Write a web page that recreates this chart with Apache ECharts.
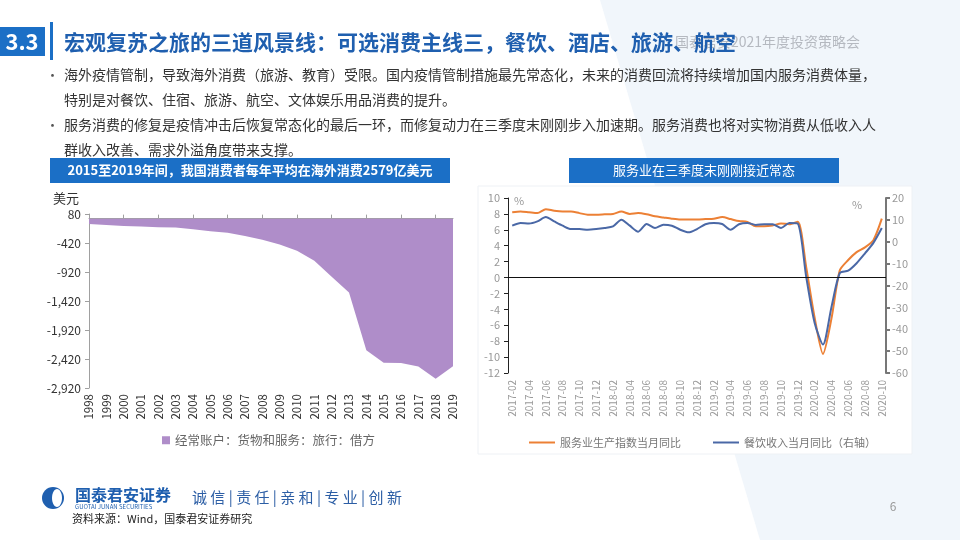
<!DOCTYPE html>
<html>
<head>
<meta charset="utf-8">
<script src="https://cdn.jsdelivr.net/npm/echarts@6/dist/echarts.min.js"></script>
<style>
html,body{margin:0;padding:0;background:#fff;}
#c{width:960px;height:540px;}
</style>
</head>
<body>
<div id="c"></div>
<script>
// ---- Left chart data (亿美元) ----
const years = ['1998','1999','2000','2001','2002','2003','2004','2005','2006','2007','2008','2009','2010','2011','2012','2013','2014','2015','2016','2017','2018','2019'];
const travelDebit = [-92,-110,-125,-137,-148,-152,-185,-216,-245,-300,-365,-445,-555,-728,-1000,-1275,-2270,-2485,-2490,-2550,-2760,-2545];
const leftTicks = { min: -2920, max: 80, interval: 500 };

// ---- Right chart data (%) ----
const months = ['2017-02','2017-03','2017-04','2017-05','2017-06','2017-07','2017-08','2017-09','2017-10','2017-11','2017-12',
  '2018-01','2018-02','2018-03','2018-04','2018-05','2018-06','2018-07','2018-08','2018-09','2018-10','2018-11','2018-12',
  '2019-01','2019-02','2019-03','2019-04','2019-05','2019-06','2019-07','2019-08','2019-09','2019-10','2019-11','2019-12',
  '2020-01','2020-02','2020-03','2020-04','2020-05','2020-06','2020-07','2020-08','2020-09','2020-10'];
const serviceIdx = [8.2,8.3,8.2,8.1,8.6,8.4,8.3,8.3,8.1,7.9,7.9,
  7.95,8.0,8.3,8.0,8.1,7.95,7.7,7.55,7.4,7.3,7.3,7.3,
  7.35,7.4,7.6,7.35,7.1,7.0,6.45,6.45,6.55,6.8,6.7,7.0,
  1.3,-5.0,-9.6,-5.2,0.9,2.2,3.2,3.8,4.7,7.4];
const catering = [7.35,8.6,8.3,9.3,11.3,9.3,7.35,5.8,5.8,5.5,5.8,
  6.3,7.0,10.1,7.35,4.6,8.1,6.3,7.8,7.35,5.5,4.3,5.8,
  8.0,8.6,8.1,5.5,8.0,8.6,7.7,8.0,8.0,6.3,8.6,8.3,
  -16,-37,-47,-30,-14.3,-13.2,-9.8,-5.3,-0.5,6.3];
const leftAxisR = { min: -12, max: 10, interval: 2 };
const rightAxisR = { min: -60, max: 20, interval: 10 };

const FONT = '"Noto Sans CJK SC", "Noto Sans", sans-serif';
const BLUE = '#1B6FC6';
const PURPLE = '#AF8DC9';
const ORANGE = '#EC8035';
const NAVY = '#4A68A6';

const chart = echarts.init(document.getElementById('c'), null, {renderer: 'canvas'});

function txt(x, y, text, style) {
  return { type: 'text', x: x, y: y, silent: true,
    style: Object.assign({ text: text, fontFamily: FONT, fontSize: 14, fill: '#333', textVerticalAlign: 'middle' }, style || {}) };
}

const graphics = [
  // background tint
  { type: 'polygon', silent: true, z: -10, shape: { points: [[600,0],[960,0],[960,540],[760,540]] }, style: { fill: '#F1F6FB' } },
  { type: 'rect', silent: true, z: -9, shape: { x: 478, y: 186, width: 434, height: 268 }, style: { fill: '#ffffff', stroke: '#EEF1F5', lineWidth: 1 } },
  // header
  { type: 'rect', silent: true, shape: { x: 0, y: 27, width: 45, height: 29 }, style: { fill: BLUE } },
  txt(22, 42, '3.3', { fill: '#fff', fontSize: 22, fontWeight: 'bold', textAlign: 'center' }),
  { type: 'rect', silent: true, shape: { x: 50, y: 22, width: 3, height: 38 }, style: { fill: BLUE } },
  txt(860, 42, '国泰君安2021年度投资策略会', { fill: '#B5B9C0', fontSize: 14, textAlign: 'right' }),
  txt(64, 42, '宏观复苏之旅的三道风景线：可选消费主线三，餐饮、酒店、旅游、航空', { fill: '#1F5FAF', fontSize: 21, fontWeight: 'bold' }),
  // bullets
  txt(46, 75, '•', { fontSize: 13, fill: '#555' }),
  txt(64, 75, '海外疫情管制，导致海外消费（旅游、教育）受限。国内疫情管制措施最先常态化，未来的消费回流将持续增加国内服务消费体量，', { fontSize: 14 }),
  txt(64, 100, '特别是对餐饮、住宿、旅游、航空、文体娱乐用品消费的提升。', { fontSize: 14 }),
  txt(46, 125, '•', { fontSize: 13, fill: '#555' }),
  txt(64, 125, '服务消费的修复是疫情冲击后恢复常态化的最后一环，而修复动力在三季度末刚刚步入加速期。服务消费也将对实物消费从低收入人', { fontSize: 14 }),
  txt(64, 150, '群收入改善、需求外溢角度带来支撑。', { fontSize: 14 }),
  // chart title bars
  { type: 'rect', silent: true, shape: { x: 50, y: 158, width: 400, height: 25 }, style: { fill: BLUE } },
  txt(250, 170.5, '2015至2019年间，我国消费者每年平均在海外消费2579亿美元', { fill: '#fff', fontSize: 13, fontWeight: 'bold', textAlign: 'center' }),
  { type: 'rect', silent: true, shape: { x: 569, y: 158, width: 270, height: 25 }, style: { fill: BLUE } },
  txt(704, 170.5, '服务业在三季度末刚刚接近常态', { fill: '#fff', fontSize: 13, textAlign: 'center' }),
  // axis unit labels
  txt(66, 198, '美元', { fontSize: 13, fill: '#333', textAlign: 'center' }),
  txt(519, 201, '%', { fontSize: 11, fill: '#999', textAlign: 'center' }),
  txt(857, 205, '%', { fontSize: 11, fill: '#999', textAlign: 'center' }),
  // footer
  { type: 'circle', silent: true, shape: { cx: 53, cy: 498, r: 11 }, style: { fill: '#1F5FAF' } },
  { type: 'ellipse', silent: true, shape: { cx: 57, cy: 498, rx: 5, ry: 9 }, style: { fill: '#fff' } },
  txt(75, 495, '国泰君安证券', { fill: '#1F5FAF', fontSize: 16, fontWeight: 'bold' }),
  txt(75, 507, 'GUOTAI JUNAN SECURITIES', { fill: '#1F5FAF', fontSize: 6 }),
  txt(192, 497, '诚 信 | 责 任 | 亲 和 | 专 业 | 创 新', { fill: '#2C5EA5', fontSize: 15 }),
  txt(72, 519, '资料来源：Wind，国泰君安证券研究', { fill: '#222', fontSize: 11 }),
  txt(893, 506, '6', { fill: '#999', fontSize: 12, textAlign: 'center' })
];

const option = {
  animation: false,
  backgroundColor: '#ffffff',
  textStyle: { fontFamily: FONT },
  graphic: { elements: graphics },
  legend: [
    { data: [{ name: '经常账户：货物和服务：旅行：借方', icon: 'rect' }], left: 157, top: 429, itemWidth: 8, itemHeight: 8,
      textStyle: { fontSize: 12.5, color: '#666', fontFamily: FONT } },
    { data: [{ name: '服务业生产指数当月同比', icon: 'rect' }, { name: '餐饮收入当月同比（右轴）', icon: 'rect' }],
      left: 524, top: 432, itemWidth: 26, itemHeight: 2, itemGap: 32,
      textStyle: { fontSize: 11, color: '#777', fontFamily: FONT } }
  ],
  grid: [
    { left: 89, top: 214, width: 364, height: 174 },
    { left: 508, top: 198, width: 378, height: 175 }
  ],
  xAxis: [
    { gridIndex: 0, type: 'category', data: years, boundaryGap: false, position: 'bottom',
      axisLine: { show: false, onZero: false }, axisTick: { show: false },
      axisLabel: { rotate: 90, interval: 0, color: '#333', fontSize: 11.5, margin: 6 } },
    { gridIndex: 0, type: 'category', data: years, boundaryGap: false, position: 'bottom',
      axisLine: { show: true, onZero: true, lineStyle: { color: '#A0A0A0' } },
      axisTick: { show: true, inside: true, length: 4, lineStyle: { color: '#A0A0A0' } },
      axisLabel: { show: false } },
    { gridIndex: 1, type: 'category', data: months, boundaryGap: true, position: 'bottom',
      axisLine: { show: false, onZero: false }, axisTick: { show: false },
      axisLabel: { rotate: 90, interval: 1, color: '#999', fontSize: 10, margin: 7 } }
  ],
  yAxis: [
    { gridIndex: 0, type: 'value', min: leftTicks.min, max: leftTicks.max, interval: leftTicks.interval,
      axisLine: { show: true, lineStyle: { color: '#A0A0A0' } }, axisTick: { show: true, length: 4, lineStyle: { color: '#A0A0A0' } },
      splitLine: { show: false },
      axisLabel: { color: '#333', fontSize: 12, margin: 8, formatter: v => v.toLocaleString('en-US') } },
    { gridIndex: 1, type: 'value', min: leftAxisR.min, max: leftAxisR.max, interval: leftAxisR.interval,
      axisLine: { show: true, lineStyle: { color: '#222' } }, axisTick: { show: true, length: 4, lineStyle: { color: '#222' } },
      splitLine: { show: false }, axisLabel: { color: '#999', fontSize: 11, margin: 8 } },
    { gridIndex: 1, type: 'value', position: 'right', min: rightAxisR.min, max: rightAxisR.max, interval: rightAxisR.interval,
      axisLine: { show: true, lineStyle: { color: '#777', width: 2 } }, axisTick: { show: true, length: 4, lineStyle: { color: '#777', width: 2 } },
      splitLine: { show: false }, axisLabel: { color: '#999', fontSize: 11, margin: 6 } }
  ],
  series: [
    { name: '经常账户：货物和服务：旅行：借方', type: 'line', xAxisIndex: 0, yAxisIndex: 0, data: travelDebit,
      symbol: 'none', color: PURPLE, lineStyle: { width: 0 }, areaStyle: { color: PURPLE, opacity: 1 } },
    { name: '服务业生产指数当月同比', type: 'line', xAxisIndex: 2, yAxisIndex: 1, data: serviceIdx,
      symbol: 'none', smooth: 0.25, color: ORANGE, lineStyle: { width: 2, color: ORANGE },
      markLine: { silent: true, symbol: ['none', 'none'], label: { show: false },
        lineStyle: { color: '#111', type: 'solid', width: 1 }, data: [{ yAxis: 0 }] } },
    { name: '餐饮收入当月同比（右轴）', type: 'line', xAxisIndex: 2, yAxisIndex: 2, data: catering,
      symbol: 'none', smooth: 0.25, color: NAVY, lineStyle: { width: 2, color: NAVY } }
  ]
};
chart.setOption(option);
</script>
</body>
</html>
